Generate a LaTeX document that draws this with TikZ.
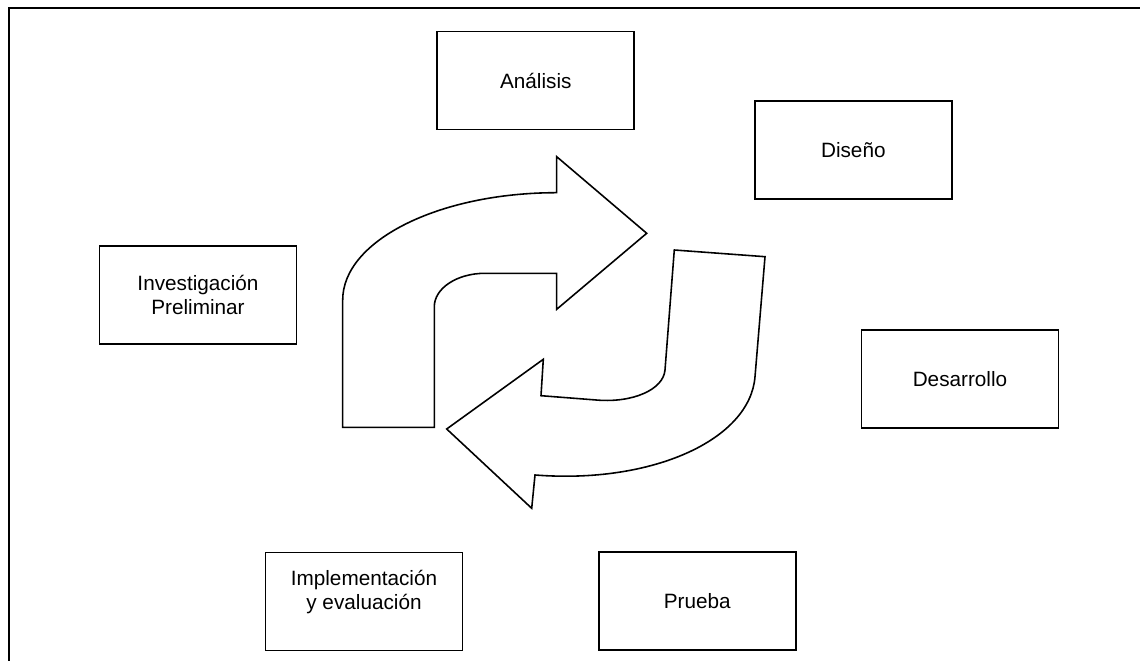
\documentclass[tikz,border=0pt]{standalone}
\usepackage{fontspec}
\setmainfont{Liberation Sans}
\begin{document}
\begin{tikzpicture}[x=0.02cm, y=-0.02cm,
  phase/.style={draw=black, line width=1.1pt, fill=white,
    minimum width=3.94cm, minimum height=1.96cm, inner sep=0pt,
    align=center, font=\fontsize{11.8}{13.6}\selectfont},
  flow/.style={draw=black, line width=0.9pt, fill=white, line join=miter}]

% page area
\useasboundingbox (0,0) rectangle (1140,661);

% frame: top and left rules
\coordinate (frameTR) at (1140,7.7);
\coordinate (frameTL) at (9,7.7);
\coordinate (frameBL) at (9,661);
\draw[line width=1.2pt] (frameTR) -- (frameTL) -- (frameBL);

% phase boxes
\node[phase] (analisis) at (535.8,80.5) {Análisis};
\node[phase] (diseno) at (853.3,149.9) {Diseño};
\node[phase] (investigacion) at (198,294.7) {Investigación\\Preliminar};
\node[phase] (desarrollo) at (960,379.2) {Desarrollo};
\node[phase] (implementacion) at (364,601.5) {Implementación\\y evaluación\\\mbox{}};
\node[phase] (prueba) at (697.3,601.2) {Prueba};

% upper bent arrow, pointing right
\draw[flow]
  (342.7,427.3) -- (342.7,300)
  .. controls (342.7,240.8) and (438.6,192.7) .. (556.7,192.7)
  -- (556.7,156.7) -- (646.7,233.3) -- (556.7,309.3) -- (556.7,273.3)
  -- (485,273.3)
  .. controls (457,273.3) and (434.3,288.3) .. (434.3,306.7)
  -- (434.3,427.3) -- cycle;

% lower bent arrow, pointing left
\draw[flow]
  (674.3,250) -- (765,256.7) -- (755,376.7)
  .. controls (750,440.1) and (651.4,484.2) .. (535,475)
  -- (531.7,508.3) -- (446.7,429) -- (543.3,359.3) -- (541,395.7)
  -- (597.4,400.1)
  .. controls (633.2,402.9) and (663.5,389.4) .. (665,370)
  -- cycle;

\end{tikzpicture}
\end{document}
